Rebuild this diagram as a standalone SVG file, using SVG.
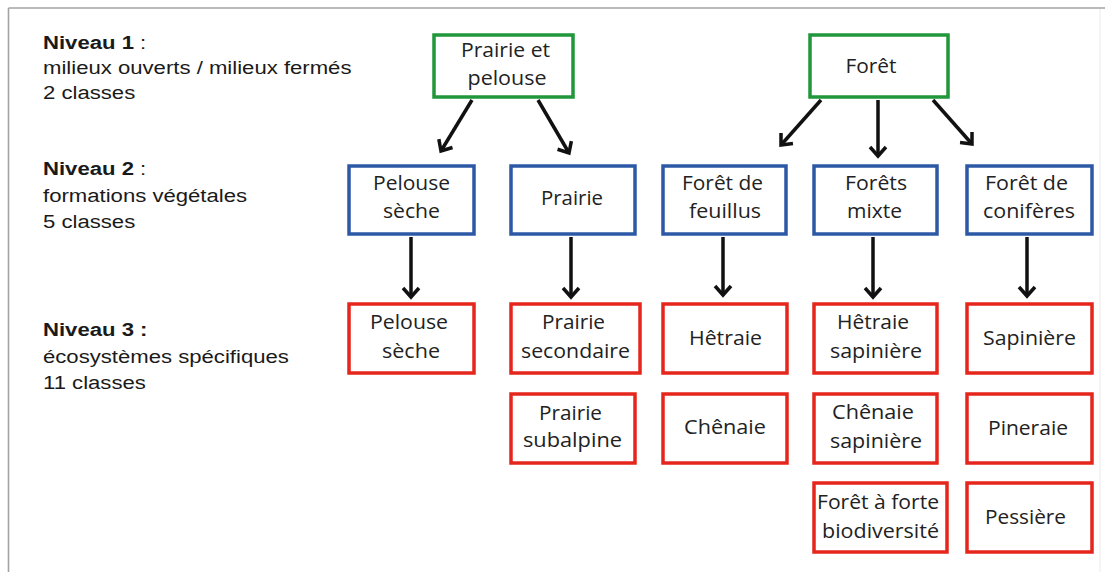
<svg xmlns="http://www.w3.org/2000/svg" width="1105" height="572" viewBox="0 0 1105 572">
  <style>
    .frame { stroke: #a3a3a3; stroke-width: 1.6; fill: none; }
    .lbl { font-family: "Liberation Sans", Arial, sans-serif; font-size: 19px; fill: #1a1a1a; }
    .b { font-weight: bold; }
    .box { fill: #ffffff; stroke-width: 3.5; }
    .l1 { stroke: #20973a; }
    .l2 { stroke: #2d58a6; }
    .l3 { stroke: #e5261d; }
    .t { font-family: "Open Sans", "Noto Sans", sans-serif; font-size: 20px; fill: #222222; text-anchor: middle; }
    .arr { stroke: #111111; stroke-width: 3.5; fill: none; marker-end: url(#chev); }
  </style>
  <defs>
    <marker id="chev" markerUnits="userSpaceOnUse" markerWidth="20" markerHeight="20" viewBox="-13 -10 16 20" refX="0" refY="0" orient="auto">
      <path d="M-9,-8 L0,0 L-9,8" fill="none" stroke="#111111" stroke-width="3.5" stroke-linejoin="miter"/>
    </marker>
  </defs>
  <rect x="0" y="0" width="1105" height="572" fill="#ffffff"/>
  <g id="frame">
    <line class="frame" x1="8.5" y1="8" x2="1105" y2="8"/>
    <line class="frame" x1="8.5" y1="8" x2="8.5" y2="572"/>
    <line x1="1100" y1="9" x2="1100" y2="572" stroke="#ebebeb" stroke-width="1"/>
  </g>
  <g id="legend">
    <g transform="translate(43,0) scale(1.165,1)">
      <text class="lbl" x="0" y="49"><tspan class="b">Niveau 1</tspan> :</text>
      <text class="lbl" x="0" y="74">milieux ouverts / milieux fermés</text>
      <text class="lbl" x="0" y="99">2 classes</text>
      <text class="lbl" x="0" y="175"><tspan class="b">Niveau 2</tspan> :</text>
      <text class="lbl" x="0" y="202">formations végétales</text>
      <text class="lbl" x="0" y="228">5 classes</text>
      <text class="lbl b" x="0" y="336">Niveau 3 :</text>
      <text class="lbl" x="0" y="363">écosystèmes spécifiques</text>
      <text class="lbl" x="0" y="389">11 classes</text>
    </g>
  </g>
  <g id="connectors">
    <line class="arr" x1="472" y1="100" x2="441" y2="151"/>
    <line class="arr" x1="538" y1="100" x2="569" y2="153"/>
    <line class="arr" x1="821" y1="100" x2="781" y2="145"/>
    <line class="arr" x1="878" y1="100" x2="878" y2="156"/>
    <line class="arr" x1="933" y1="100" x2="972" y2="144"/>
    <line class="arr" x1="411" y1="237" x2="411" y2="297"/>
    <line class="arr" x1="571" y1="237" x2="571" y2="297"/>
    <line class="arr" x1="723" y1="237" x2="723" y2="295"/>
    <line class="arr" x1="873" y1="237" x2="873" y2="297"/>
    <line class="arr" x1="1027" y1="237" x2="1027" y2="296"/>
  </g>
  <g id="prairie-pelouse">
    <rect class="box l1" x="434" y="35" width="139" height="62"/>
    <text class="t" x="505.5" y="57" textLength="89" lengthAdjust="spacingAndGlyphs">Prairie et</text>
    <text class="t" x="507" y="85" textLength="79" lengthAdjust="spacingAndGlyphs">pelouse</text>
  </g>
  <g id="foret">
    <rect class="box l1" x="810" y="35" width="138" height="62"/>
    <text class="t" x="871" y="73" textLength="51" lengthAdjust="spacingAndGlyphs">Forêt</text>
  </g>
  <g id="n2-pelouse-seche">
    <rect class="box l2" x="349" y="166" width="125" height="68"/>
    <text class="t" x="411.5" y="190" textLength="77" lengthAdjust="spacingAndGlyphs">Pelouse</text>
    <text class="t" x="411.5" y="218" textLength="57" lengthAdjust="spacingAndGlyphs">sèche</text>
  </g>
  <g id="n2-prairie">
    <rect class="box l2" x="511" y="166" width="124" height="68"/>
    <text class="t" x="572" y="205" textLength="62" lengthAdjust="spacingAndGlyphs">Prairie</text>
  </g>
  <g id="n2-foret-feuillus">
    <rect class="box l2" x="663" y="166" width="123" height="68"/>
    <text class="t" x="722.5" y="190" textLength="81" lengthAdjust="spacingAndGlyphs">Forêt de</text>
    <text class="t" x="725" y="218" textLength="72" lengthAdjust="spacingAndGlyphs">feuillus</text>
  </g>
  <g id="n2-forets-mixte">
    <rect class="box l2" x="814" y="166" width="123" height="68"/>
    <text class="t" x="876" y="190" textLength="62" lengthAdjust="spacingAndGlyphs">Forêts</text>
    <text class="t" x="874.5" y="218" textLength="55" lengthAdjust="spacingAndGlyphs">mixte</text>
  </g>
  <g id="n2-foret-coniferes">
    <rect class="box l2" x="967" y="166" width="125" height="68"/>
    <text class="t" x="1026.5" y="190" textLength="83" lengthAdjust="spacingAndGlyphs">Forêt de</text>
    <text class="t" x="1029" y="218" textLength="92" lengthAdjust="spacingAndGlyphs">conifères</text>
  </g>
  <g id="n3-pelouse-seche">
    <rect class="box l3" x="349" y="304" width="125" height="69"/>
    <text class="t" x="409" y="329" textLength="78" lengthAdjust="spacingAndGlyphs">Pelouse</text>
    <text class="t" x="411" y="358" textLength="58" lengthAdjust="spacingAndGlyphs">sèche</text>
  </g>
  <g id="n3-prairie-secondaire">
    <rect class="box l3" x="511" y="304" width="129" height="69"/>
    <text class="t" x="573.5" y="329" textLength="63" lengthAdjust="spacingAndGlyphs">Prairie</text>
    <text class="t" x="575.5" y="358" textLength="109" lengthAdjust="spacingAndGlyphs">secondaire</text>
  </g>
  <g id="n3-prairie-subalpine">
    <rect class="box l3" x="511" y="394" width="124" height="69"/>
    <text class="t" x="570.5" y="420" textLength="63" lengthAdjust="spacingAndGlyphs">Prairie</text>
    <text class="t" x="572.5" y="447" textLength="99" lengthAdjust="spacingAndGlyphs">subalpine</text>
  </g>
  <g id="n3-hetraie">
    <rect class="box l3" x="663" y="304" width="124" height="69"/>
    <text class="t" x="725.5" y="345" textLength="73" lengthAdjust="spacingAndGlyphs">Hêtraie</text>
  </g>
  <g id="n3-chenaie">
    <rect class="box l3" x="663" y="394" width="124" height="69"/>
    <text class="t" x="725" y="434" textLength="82" lengthAdjust="spacingAndGlyphs">Chênaie</text>
  </g>
  <g id="n3-hetraie-sapiniere">
    <rect class="box l3" x="814" y="304" width="123" height="69"/>
    <text class="t" x="873" y="329" textLength="72" lengthAdjust="spacingAndGlyphs">Hêtraie</text>
    <text class="t" x="876" y="358" textLength="92" lengthAdjust="spacingAndGlyphs">sapinière</text>
  </g>
  <g id="n3-chenaie-sapiniere">
    <rect class="box l3" x="814" y="394" width="123" height="69"/>
    <text class="t" x="873" y="419" textLength="82" lengthAdjust="spacingAndGlyphs">Chênaie</text>
    <text class="t" x="876" y="448" textLength="92" lengthAdjust="spacingAndGlyphs">sapinière</text>
  </g>
  <g id="n3-foret-biodiversite">
    <rect class="box l3" x="814" y="483" width="133" height="69"/>
    <text class="t" x="878" y="509" textLength="122" lengthAdjust="spacingAndGlyphs">Forêt à forte</text>
    <text class="t" x="880.5" y="538" textLength="117" lengthAdjust="spacingAndGlyphs">biodiversité</text>
  </g>
  <g id="n3-sapiniere">
    <rect class="box l3" x="967" y="304" width="125" height="69"/>
    <text class="t" x="1029.5" y="345" textLength="93" lengthAdjust="spacingAndGlyphs">Sapinière</text>
  </g>
  <g id="n3-pineraie">
    <rect class="box l3" x="967" y="394" width="125" height="69"/>
    <text class="t" x="1028" y="435" textLength="80" lengthAdjust="spacingAndGlyphs">Pineraie</text>
  </g>
  <g id="n3-pessiere">
    <rect class="box l3" x="967" y="483" width="125" height="69"/>
    <text class="t" x="1025.5" y="524" textLength="81" lengthAdjust="spacingAndGlyphs">Pessière</text>
  </g>
</svg>
